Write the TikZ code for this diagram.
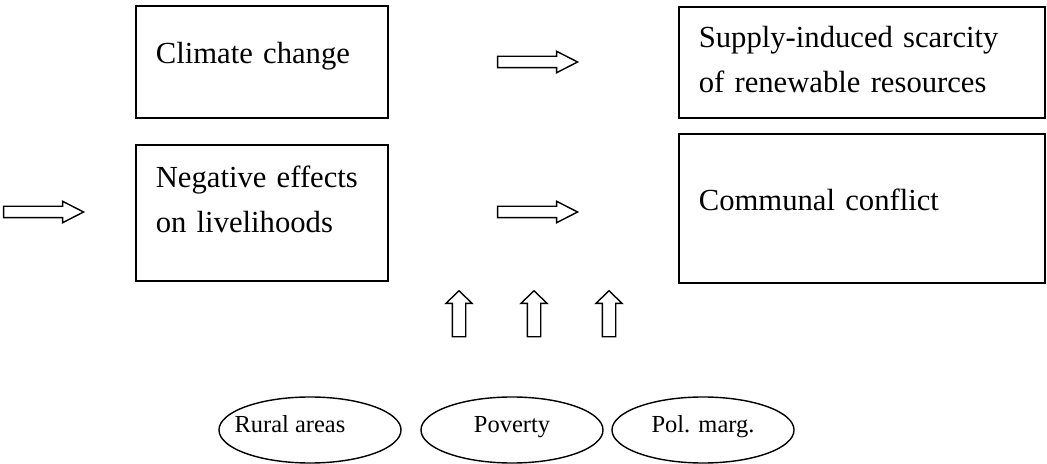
\documentclass[tikz,border=0pt]{standalone}
\usepackage{fontspec}
\setmainfont{Liberation Serif}
\usetikzlibrary{positioning,shapes,shapes.arrows}

\tikzset{
  box/.style={draw, line width=1.2pt, rectangle, anchor=north west,
    inner xsep=0.5cm, inner ysep=0pt, align=left,
    font=\fontsize{21.8}{32}\selectfont},
  factor/.style={draw, line width=1pt, ellipse, minimum width=4.55cm,
    minimum height=1.65cm, inner sep=0pt, text height=0.7em, text depth=0.3em,
    font=\fontsize{17.4}{20}\selectfont},
  flow/.style={draw, line width=1pt, single arrow, inner xsep=0pt,
    inner ysep=0.125cm, single arrow head extend=0.125cm,
    single arrow tip angle=54, minimum height=2cm},
  push/.style={draw, line width=1pt, single arrow, inner xsep=0pt,
    inner ysep=0.15cm, single arrow head extend=0.16cm,
    single arrow tip angle=92, minimum height=1.15cm, rotate=90}
}

\begin{document}
\begin{tikzpicture}[x=0.025cm, y=-0.025cm]

  \useasboundingbox (0,0) rectangle (1047,464);

  \node[box, text width=5.3cm, text height=1.45cm, text depth=1.35cm] (climate) at (135,5) {Climate change};
  \node[box, text width=8.15cm, text height=1.025cm, text depth=1.75cm] (scarcity) at (678,6) {Supply-induced scarcity\\of renewable resources};
  \node[box, text width=5.3cm, text height=1.075cm, text depth=2.325cm] (livelihood) at (135,144) {Negative effects\\on livelihoods};
  \node[box, text width=8.15cm, text height=1.925cm, text depth=1.8cm] (conflict) at (678,133) {Communal conflict};

  \node[flow] (toscarcity) at (532,62) {};
  \node[flow] (tolivelihood) at (38,212) {};
  \node[flow] (toconflict) at (532,212) {};

  \node[push] (up1) at (459,317) {};
  \node[push] (up2) at (534,317) {};
  \node[push] (up3) at (609,317) {};

  \node[factor] (rural) at (310,430) {\hspace*{-1cm}Rural areas};
  \node[factor] (poverty) at (512,430) {Poverty};
  \node[factor] (polmarg) at (703,430) {Pol. marg.};

\end{tikzpicture}
\end{document}
